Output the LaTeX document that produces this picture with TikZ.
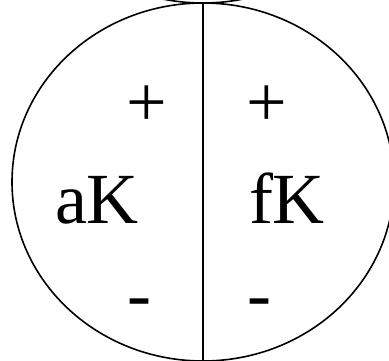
\documentclass[tikz,border=0pt]{standalone}
\usepackage{fontspec}
\setmainfont{Liberation Serif}
\begin{document}
\begin{tikzpicture}[x=1pt,y=-1pt,
  lbl/.style={inner sep=0pt,anchor=base,font=\fontsize{72}{80}\selectfont},
  outline/.style={line width=1.6pt}]
\useasboundingbox (0,0) rectangle (389,361);
\clip (0,0) rectangle (389,361);
\draw[outline] (203,182) ellipse [x radius=191, y radius=179];
\draw[outline] (203,-176) ellipse [x radius=191, y radius=179];
\coordinate (top) at (203,3);
\coordinate (bot) at (203,362);
\draw[line width=1.8pt] (top) -- (bot);
\node[lbl] (pl) at (147,127) {+};
\node[lbl] (pr) at (267,127) {+};
\node[lbl] (ak) at (97,223) {aK};
\node[lbl] (fk) at (287,223) {fK};
\node[lbl] (ml) at (139,318) {-};
\node[lbl] (mr) at (259,318) {-};
\end{tikzpicture}
\end{document}
